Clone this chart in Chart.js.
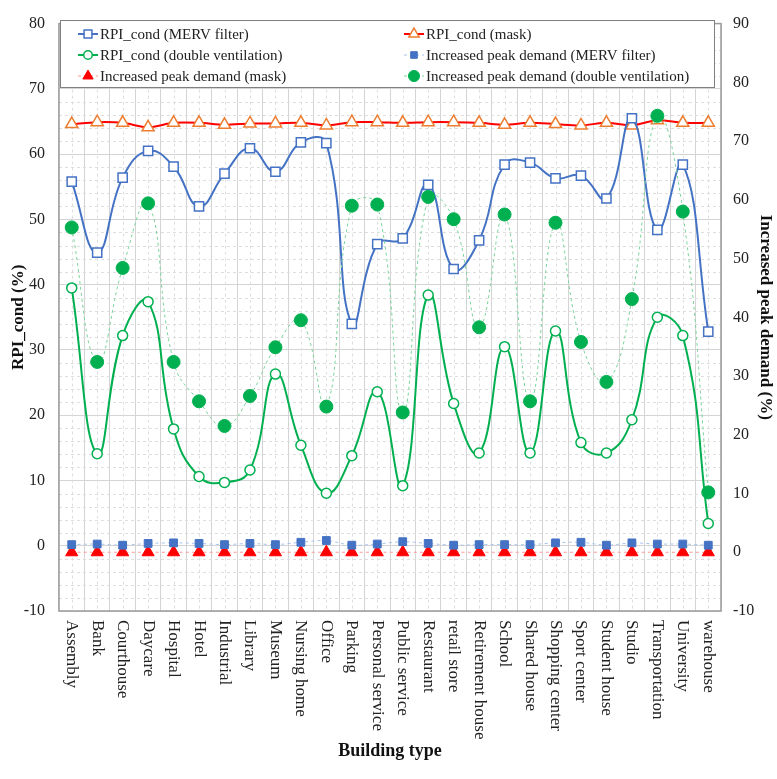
<!DOCTYPE html>
<html>
<head>
<meta charset="utf-8">
<script src="https://cdn.jsdelivr.net/npm/chart.js@4/dist/chart.umd.min.js"></script>
<style>
  html, body { margin: 0; padding: 0; background: #fff; }
  #wrap { width: 777px; height: 779px; }
</style>
</head>
<body>
<div id="wrap"><canvas id="chartCanvas"></canvas></div>
<script>
const buildingTypes = ["Assembly", "Bank", "Courthouse", "Daycare", "Hospital", "Hotel", "Industrial",
  "Library", "Museum", "Nursing home", "Office", "Parking", "Personal service", "Public service",
  "Restaurant", "retail store", "Retirement house", "School", "Shared house", "Shopping center",
  "Sport center", "Student house", "Studio", "Transportation", "University", "warehouse"];

// RPI_cond (%) - left axis
const rpiMerv = [55.8, 44.9, 56.4, 60.5, 58.1, 52.0, 57.0, 60.9, 57.3, 61.8, 61.7, 34.0, 46.2, 47.1,
  55.3, 42.4, 46.8, 58.4, 58.7, 56.3, 56.7, 53.2, 65.5, 48.4, 58.4, 32.8];
const rpiMask = [64.6, 64.9, 64.8, 64.1, 64.8, 64.8, 64.5, 64.7, 64.7, 64.8, 64.4, 64.9, 64.9, 64.8,
  64.9, 64.9, 64.8, 64.5, 64.8, 64.6, 64.4, 64.8, 64.4, 65.2, 64.8, 64.8];
const rpiDouble = [39.5, 14.1, 32.2, 37.4, 17.9, 10.6, 9.7, 11.6, 26.3, 15.4, 8.05, 13.8, 23.6, 9.2,
  38.4, 21.8, 14.2, 30.5, 14.2, 32.9, 15.8, 14.2, 19.3, 35.0, 32.2, 3.4];

// Increased peak demand (%) - right axis
const peakMerv = [1.3, 1.4, 1.2, 1.5, 1.6, 1.5, 1.3, 1.5, 1.3, 1.7, 2.0, 1.2, 1.4, 1.8,
  1.5, 1.2, 1.3, 1.3, 1.3, 1.6, 1.7, 1.2, 1.6, 1.4, 1.4, 1.2];
const peakMask = [0, 0, 0, 0, 0, 0, 0, 0, 0, 0, 0, 0, 0, 0, 0, 0, 0, 0, 0, 0, 0, 0, 0, 0, 0, 0];
const peakDouble = [55.3, 32.4, 48.4, 59.4, 32.4, 25.7, 21.5, 26.6, 34.9, 39.5, 24.8, 59.0, 59.2, 23.8,
  60.5, 56.7, 38.3, 57.5, 25.7, 56.1, 35.8, 29.0, 43.1, 74.3, 58.0, 10.2];

const leftTicks = [-10, 0, 10, 20, 30, 40, 50, 60, 70, 80];
const rightTicks = [-10, 0, 10, 20, 30, 40, 50, 60, 70, 80, 90];

const FONT = '"Liberation Serif", "Times New Roman", serif';
const BLUE = '#4472C4', GREEN = '#00B050', RED = '#FF0000', ORANGE = '#ED7D31';

// minor grid, plot frame, rotated category labels and legend box
const decorPlugin = {
  id: 'decor',
  beforeDatasetsDraw(chart) {
    const {ctx, chartArea: a, scales} = chart;
    ctx.save();
    ctx.strokeStyle = '#dedede';
    ctx.lineWidth = 1;
    ctx.setLineDash([3, 3]);
    for (let v = -10; v <= 80; v += 2) {
      if (v % 10 === 0) continue;
      const y = Math.round(scales.y.getPixelForValue(v)) + 0.5;
      ctx.beginPath(); ctx.moveTo(a.left, y); ctx.lineTo(a.right, y); ctx.stroke();
    }
    buildingTypes.forEach((_, i) => {
      const x = Math.round(scales.x.getPixelForValue(i)) + 0.5;
      ctx.beginPath(); ctx.moveTo(x, a.top); ctx.lineTo(x, a.bottom); ctx.stroke();
    });
    ctx.restore();
  },
  afterDraw(chart) {
    const {ctx, chartArea: a, scales} = chart;
    ctx.save();
    ctx.strokeStyle = '#9a9a9a';
    ctx.lineWidth = 1.5;
    ctx.strokeRect(a.left, a.top, a.right - a.left, a.bottom - a.top);

    // category labels, turned clockwise
    ctx.fillStyle = '#222';
    ctx.font = '17px ' + FONT;
    ctx.textAlign = 'left';
    ctx.textBaseline = 'middle';
    buildingTypes.forEach((lab, i) => {
      const x = scales.x.getPixelForValue(i);
      ctx.save();
      ctx.translate(x, a.bottom + 9);
      ctx.rotate(Math.PI / 2);
      ctx.fillText(lab, 0, 0);
      ctx.restore();
    });

    // legend
    const bx = 60, by = 20, bw = 654, bh = 67;
    ctx.fillStyle = '#fff';
    ctx.fillRect(bx, by, bw, bh);
    ctx.strokeStyle = '#808080';
    ctx.lineWidth = 1;
    ctx.strokeRect(bx + 0.5, by + 0.5, bw, bh);
    const slots = [[0, 78, 34], [2, 78, 55], [4, 78, 76], [1, 404, 34], [3, 404, 55], [5, 404, 76]];
    ctx.font = '15px ' + FONT;
    slots.forEach(([di, x, y]) => {
      const ds = chart.data.datasets[di];
      ctx.strokeStyle = ds.borderColor;
      ctx.lineWidth = ds.borderWidth;
      ctx.setLineDash(ds.borderDash || []);
      ctx.beginPath(); ctx.moveTo(x, y); ctx.lineTo(x + 20, y); ctx.stroke();
      ctx.setLineDash([]);
      ctx.fillStyle = ds.pointBackgroundColor;
      ctx.strokeStyle = ds.pointBorderColor;
      ctx.lineWidth = ds.pointBorderWidth;
      Chart.helpers.drawPoint(ctx, {pointStyle: ds.pointStyle, radius: ds.pointRadius * 0.85,
        rotation: 0, borderWidth: ds.pointBorderWidth}, x + 10, y);
      ctx.fillStyle = '#222';
      ctx.textBaseline = 'middle';
      ctx.fillText(ds.label, x + 22, y + 1);
    });
    ctx.restore();
  }
};

const ctx = document.getElementById('chartCanvas').getContext('2d');
new Chart(ctx, {
  type: 'line',
  data: {
    labels: buildingTypes,
    datasets: [
      {label: 'RPI_cond (MERV filter)', data: rpiMerv, yAxisID: 'y', order: 1,
        borderColor: BLUE, borderWidth: 2, tension: 0.45,
        pointStyle: 'rect', pointRadius: 6.5, pointBorderColor: BLUE, pointBackgroundColor: '#fff', pointBorderWidth: 1.5},
      {label: 'RPI_cond (mask)', data: rpiMask, yAxisID: 'y', order: 2,
        borderColor: RED, borderWidth: 2, tension: 0.3,
        pointStyle: 'triangle', pointRadius: 7, pointBorderColor: ORANGE, pointBackgroundColor: '#fff', pointBorderWidth: 1.5},
      {label: 'RPI_cond (double ventilation)', data: rpiDouble, yAxisID: 'y', order: 3,
        borderColor: GREEN, borderWidth: 2, tension: 0.45,
        pointStyle: 'circle', pointRadius: 5, pointBorderColor: GREEN, pointBackgroundColor: '#fff', pointBorderWidth: 1.5},
      {label: 'Increased peak demand (MERV filter)', data: peakMerv, yAxisID: 'y1', order: 4,
        borderColor: '#A9C4EB', borderWidth: 1, borderDash: [3, 3], tension: 0.3,
        pointStyle: 'rect', pointRadius: 5.5, pointBorderColor: BLUE, pointBackgroundColor: BLUE, pointBorderWidth: 1},
      {label: 'Increased peak demand (mask)', data: peakMask, yAxisID: 'y1', order: 5,
        borderColor: '#FF9A9A', borderWidth: 1, borderDash: [3, 3], tension: 0.3,
        pointStyle: 'triangle', pointRadius: 7, pointBorderColor: RED, pointBackgroundColor: RED, pointBorderWidth: 1},
      {label: 'Increased peak demand (double ventilation)', data: peakDouble, yAxisID: 'y1', order: 0,
        borderColor: '#7CD39B', borderWidth: 1, borderDash: [3, 3], tension: 0.45,
        pointStyle: 'circle', pointRadius: 6.5, pointBorderColor: GREEN, pointBackgroundColor: GREEN, pointBorderWidth: 1}
    ]
  },
  options: {
    responsive: true,
    maintainAspectRatio: false,
    animation: false,
    layout: {padding: {top: 19, left: 0, right: 0, bottom: 0}},
    plugins: {legend: {display: false}, tooltip: {enabled: false}},
    scales: {
      x: {
        offset: true,
        grid: {offset: true, color: '#d4d4d4', drawTicks: false},
        border: {display: false},
        ticks: {display: false},
        title: {display: true, text: 'Building type', color: '#111',
          font: {family: FONT, size: 18, weight: 'bold'}, padding: {top: 0, bottom: 17}},
        afterFit(s) { s.height = 168; }
      },
      y: {
        position: 'left', min: -10, max: 80,
        afterBuildTicks(s) { s.ticks = leftTicks.map(v => ({value: v})); },
        grid: {color: '#d4d4d4', drawTicks: false},
        border: {display: false},
        ticks: {color: '#222', padding: 14, font: {family: FONT, size: 16}},
        title: {display: true, text: 'RPI_cond (%)', color: '#111',
          font: {family: FONT, size: 17, weight: 'bold'}, padding: {top: 8, bottom: 0}},
        afterFit(s) { s.width = 59; }
      },
      y1: {
        position: 'right', min: -10, max: 90,
        afterBuildTicks(s) { s.ticks = rightTicks.map(v => ({value: v})); },
        grid: {drawOnChartArea: false, drawTicks: false},
        border: {display: false},
        ticks: {color: '#222', padding: 12, font: {family: FONT, size: 16}},
        title: {display: true, text: 'Increased peak demand (%)', color: '#111',
          font: {family: FONT, size: 17, weight: 'bold'}, padding: {top: 1, bottom: 0}},
        afterFit(s) { s.width = 56; }
      }
    }
  },
  plugins: [decorPlugin]
});
</script>
</body>
</html>
